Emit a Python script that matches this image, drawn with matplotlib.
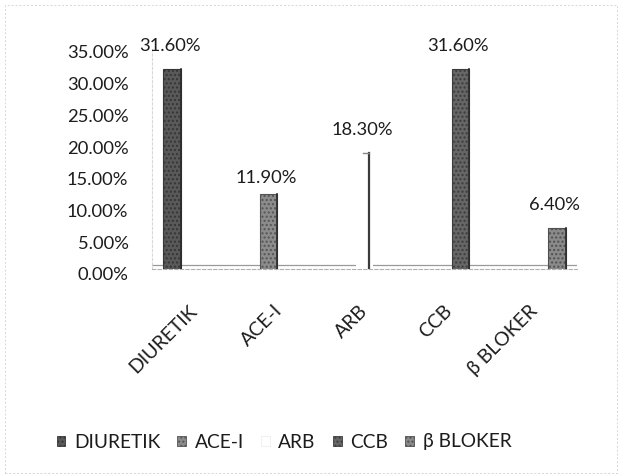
import matplotlib
matplotlib.use("Agg")
import matplotlib.pyplot as plt
import matplotlib.transforms as mtransforms
from matplotlib.patches import Rectangle, Patch

plt.rcParams['font.family'] = ['Lato', 'DejaVu Sans']

categories = ["DIURETIK", "ACE-I", "ARB", "CCB", "β BLOKER"]
values = [31.6, 11.9, 18.3, 31.6, 6.4]
value_labels = ["31.60%", "11.90%", "18.30%", "31.60%", "6.40%"]
ytick_values = [0, 5, 10, 15, 20, 25, 30, 35]
ytick_labels = ["0.00%", "5.00%", "10.00%", "15.00%", "20.00%", "25.00%", "30.00%", "35.00%"]

face_colors = ["#595959", "#8c8c8c", "#ffffff", "#666666", "#8a8a8a"]
edge_colors = ["#363636", "#555555", "#ffffff", "#3c3c3c", "#505050"]
text_color = "#1c1c1c"

fig = plt.figure(figsize=(6.23, 4.76), dpi=100)
fig.patch.set_facecolor("white")

# outer chart-area border
fig.patches.append(Rectangle((5 / 623, 3 / 476), 612 / 623, 468 / 476,
                             transform=fig.transFigure, fill=False,
                             edgecolor="#d6d6d6", linewidth=0.7,
                             linestyle=(0, (2, 2))))

ax = fig.add_axes([152 / 623, 1 - 269 / 476, 425 / 623, 222 / 476])
ax.set_xlim(-0.5, len(categories) - 0.5)
ax.set_ylim(0, 35)

n = len(categories)
offset_step = 0.13
bar_w = 0.21
for i, (cat, v) in enumerate(zip(categories, values)):
    x = i + (i - (n - 1) / 2) * offset_step
    if cat == "ARB":
        bars = ax.bar(x, v, width=bar_w, color=face_colors[i],
                      linewidth=0, zorder=3, label=cat)
        b = bars[0]
        # white column: only its shaded right side and top edge show
        xr = b.get_x() + b.get_width() * 0.75
        ax.plot([xr, xr], [0, v], color="#3a3a3a", lw=1.6, zorder=4)
        ax.plot([xr - b.get_width() * 0.35, xr], [v, v],
                color="#888888", lw=1.0, zorder=4)
    else:
        bars = ax.bar(x, v, width=bar_w, color=face_colors[i],
                      edgecolor=edge_colors[i], linewidth=0.8,
                      hatch="....", zorder=3, label=cat)
        b = bars[0]
        # darker right side for a bit of depth
        xr = b.get_x() + b.get_width()
        ax.plot([xr, xr], [0, v], color="#2a2a2a", lw=1.2, zorder=4)
    dy = 16 if cat == "ACE-I" else 23
    ax.annotate(value_labels[i], (x - 0.03, v), xytext=(0, dy),
                textcoords="offset pixels", ha="center", va="center",
                fontsize=13.2, color=text_color)

# floor lines
ax.axhline(0.6, color="#9a9a9a", lw=0.9, zorder=2)
for s in ["top", "right"]:
    ax.spines[s].set_visible(False)
ax.spines["bottom"].set_color("#b0b0b0")
ax.spines["bottom"].set_linestyle((0, (3, 2)))
ax.spines["bottom"].set_linewidth(0.8)
ax.spines["left"].set_color("#d8d8d8")
ax.spines["left"].set_linestyle((0, (2, 2)))
ax.spines["left"].set_linewidth(0.8)

ax.set_yticks(ytick_values)
ax.set_yticklabels(ytick_labels, fontsize=13.2, color=text_color)
ax.tick_params(axis="y", length=0, pad=17)
shift = mtransforms.ScaledTranslation(0, -5 / 100, fig.dpi_scale_trans)
for lbl in ax.get_yticklabels():
    lbl.set_transform(lbl.get_transform() + shift)

ax.set_xticks(range(n))
ax.set_xticklabels(categories, rotation=45, ha="right", va="center",
                   rotation_mode="anchor", fontsize=14, color=text_color)
ax.tick_params(axis="x", length=0, pad=28)

handles = [Patch(facecolor=face_colors[i],
                 edgecolor=edge_colors[i] if cat != "ARB" else "#eeeeee",
                 hatch="...." if cat != "ARB" else None, linewidth=0.6)
           for i, cat in enumerate(categories)]
fig.legend(handles, categories, loc="center",
           bbox_to_anchor=(284 / 623, 1 - 442 / 476), ncol=n, frameon=False,
           fontsize=13.8, handlelength=0.45, handleheight=0.45,
           handletextpad=0.45, columnspacing=0.9, labelcolor=text_color)

fig.savefig("out.png", dpi=100, facecolor="white")
